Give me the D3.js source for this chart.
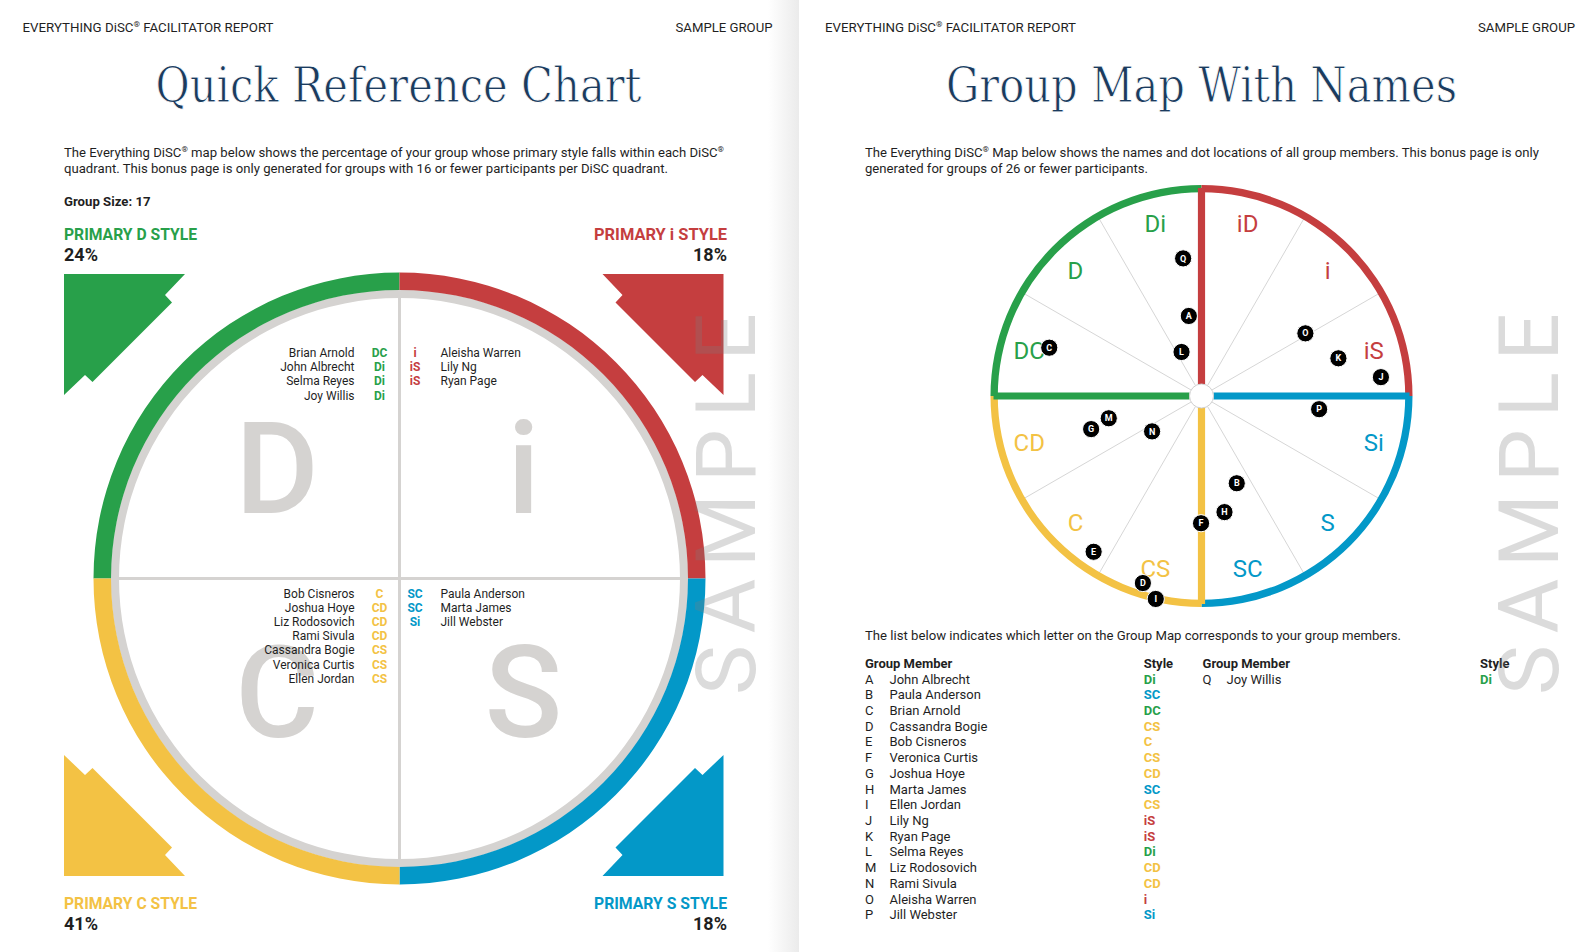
<!DOCTYPE html>
<html><head><meta charset="utf-8">
<script src="https://cdn.jsdelivr.net/npm/d3@7"></script>
<style>
html,body{margin:0;padding:0;background:#fff;}
svg{display:block;}
</style>
</head><body>
<svg id="chart" width="1594" height="952" font-family="Roboto, 'Noto Sans', 'DejaVu Sans', sans-serif"></svg>
<script>
// ---------------- DATA ----------------
const quadrantKeys = ["D", "i", "S", "C"];
const quadrantTitles = ["PRIMARY D STYLE", "PRIMARY i STYLE", "PRIMARY S STYLE", "PRIMARY C STYLE"];
const quadrantPercents = ["24%", "18%", "18%", "41%"];
const groupSize = 17;
const sectorStyles = ["iD", "i", "iS", "Si", "S", "SC", "CS", "C", "CD", "DC", "D", "Di"]; // clockwise from 12 o'clock
const memberLetters = ["A","B","C","D","E","F","G","H","I","J","K","L","M","N","O","P","Q"];
const memberNames = ["John Albrecht","Paula Anderson","Brian Arnold","Cassandra Bogie","Bob Cisneros","Veronica Curtis","Joshua Hoye","Marta James","Ellen Jordan","Lily Ng","Ryan Page","Selma Reyes","Liz Rodosovich","Rami Sivula","Aleisha Warren","Jill Webster","Joy Willis"];
const memberStyles = ["Di","SC","DC","CS","C","CS","CD","SC","CS","iS","iS","Di","CD","CD","i","Si","Di"];
// dot position on the map: angle in degrees clockwise from 12 o'clock, distance as share of map radius
const memberAngles = [351, 158, 287.6, 197.4, 214.7, 180.2, 253.3, 168.8, 192.7, 84, 74.6, 335.6, 256.5, 234.4, 58.9, 96.4, 352.4];
const memberDistances = [0.384, 0.446, 0.757, 0.929, 0.898, 0.603, 0.546, 0.561, 0.986, 0.855, 0.673, 0.229, 0.452, 0.288, 0.575, 0.561, 0.658];

const headerLeft = "EVERYTHING DiSC® FACILITATOR REPORT";
const headerRight = "SAMPLE GROUP";
const titleLeft = "Quick Reference Chart";
const titleRight = "Group Map With Names";
const introLeft = ["The Everything DiSC® map below shows the percentage of your group whose primary style falls within each DiSC®",
                   "quadrant. This bonus page is only generated for groups with 16 or fewer participants per DiSC quadrant."];
const introRight = ["The Everything DiSC® Map below shows the names and dot locations of all group members. This bonus page is only",
                    "generated for groups of 26 or fewer participants."];
const listIntro = "The list below indicates which letter on the Group Map corresponds to your group members.";

// ---------------- STYLE ----------------
const colors = {D: "#28a04a", i: "#c53e3f", S: "#0398c8", C: "#f3c244"};
const ink = "#1f1f1f";
const grayRing = "#d5d3d1";
const styleColor = s => colors[s[0]];

const svg = d3.select("#chart");
const defs = svg.append("defs");
const grad = defs.append("linearGradient").attr("id", "shade").attr("x1", 0).attr("x2", 1).attr("y1", 0).attr("y2", 0);
grad.append("stop").attr("offset", 0).attr("stop-color", "#ffffff");
grad.append("stop").attr("offset", 1).attr("stop-color", "#ebebeb");
svg.append("rect").attr("x", 0).attr("y", 0).attr("width", 1594).attr("height", 952).attr("fill", "#fff");
svg.append("rect").attr("x", 768).attr("y", 0).attr("width", 31).attr("height", 952).attr("fill", "url(#shade)");

function addText(parent, str, x, y, o) {
  const t = parent.append("text").attr("x", x).attr("y", y)
    .attr("font-size", o.size).attr("font-weight", o.weight || 400)
    .attr("fill", o.fill || ink).attr("text-anchor", o.anchor || "start");
  if (o.family) t.style("font-family", o.family);
  if (o.len) t.attr("textLength", o.len).attr("lengthAdjust", o.adjust || "spacingAndGlyphs");
  const parts = str.split("®");
  if (parts.length === 1) { t.text(str); return t; }
  let shifted = false;
  parts.forEach((p, i) => {
    if (p) {
      const ts = t.append("tspan").attr("font-size", o.size).text(p);
      if (shifted) { ts.attr("dy", o.size * 0.38); shifted = false; }
    }
    if (i < parts.length - 1) {
      t.append("tspan").attr("font-size", o.size * 0.62).attr("dy", -o.size * 0.38).text("®");
      shifted = true;
    }
  });
  return t;
}

// ---------------- PAGE TEXT ----------------
const pages = [
  {x0: 22.5, xr: 772.5, title: titleLeft, tc: 398.5, tl: 486, px: 64, intro: introLeft, introLens: [660, 604]},
  {x0: 825, xr: 1575, title: titleRight, tc: 1201.5, tl: 511, px: 865, intro: introRight, introLens: [674, 283]}
];
pages.forEach(p => {
  addText(svg, headerLeft, p.x0, 31.7, {size: 13, len: 251});
  addText(svg, headerRight, p.xr, 31.7, {size: 13, anchor: "end", len: 97});
  addText(svg, p.title, p.tc, 101.5, {size: 48, fill: "#1b3b5e", anchor: "middle", family: "'DejaVu Serif', serif", len: p.tl})
    .attr("stroke", "#fff").attr("stroke-width", 0.9);
  p.intro.forEach((line, i) => addText(svg, line, p.px, 156.5 + i * 16.2, {size: 13, len: p.introLens[i]}));
});
addText(svg, "Group Size: " + groupSize, 64, 205.5, {size: 13, weight: 700, len: 86.5});

// ---------------- LEFT: QUICK REFERENCE CHART ----------------
const cxL = 399.5, cyL = 578.5;
const gL = svg.append("g").attr("transform", `translate(${cxL},${cyL})`);
const quadAngle = d3.scaleLinear().domain([0, 4]).range([-Math.PI / 2, 3 * Math.PI / 2]);
const ringArc = d3.arc().innerRadius(288.5).outerRadius(306);
gL.append("path").attr("d", d3.arc().innerRadius(280.5).outerRadius(288.8)({startAngle: 0, endAngle: 2 * Math.PI})).attr("fill", grayRing);
quadrantKeys.forEach((k, i) => {
  gL.append("path").attr("d", ringArc({startAngle: quadAngle(i), endAngle: quadAngle(i + 1)})).attr("fill", colors[k]);
});
gL.append("line").attr("x1", -281).attr("x2", 281).attr("y1", 0).attr("y2", 0).attr("stroke", grayRing).attr("stroke-width", 3);
gL.append("line").attr("y1", -281).attr("y2", 281).attr("x1", 0).attr("x2", 0).attr("stroke", grayRing).attr("stroke-width", 3);

// quadrant geometry: side (-1 left / +1 right), row (-1 top / +1 bottom)
const quadSide = {D: -1, i: 1, S: 1, C: -1};
const quadRow = {D: -1, i: -1, S: 1, C: 1};
quadrantKeys.forEach(k => {
  const x = quadSide[k] < 0 ? -122.5 : 124;
  const y = quadRow[k] < 0 ? -65.5 : 158.5;
  gL.append("text").attr("x", x).attr("y", y).attr("text-anchor", "middle")
    .attr("font-size", 128).attr("font-weight", 500).attr("fill", grayRing).text(k);
});

// member names per quadrant
const memberIdx = d3.range(memberNames.length);
quadrantKeys.forEach(k => {
  const list = memberIdx.filter(i => memberStyles[i][0] === k)
    .sort((a, b) => memberStyles[a] < memberStyles[b] ? -1 : memberStyles[a] > memberStyles[b] ? 1 : 0);
  const y0 = quadRow[k] < 0 ? -221.5 : 19;
  const yS = d3.scaleLinear().domain([0, 1]).range([y0, y0 + 14.2]);
  const left = quadSide[k] < 0;
  list.forEach((m, j) => {
    gL.append("text").attr("x", left ? -45 : 41).attr("y", yS(j))
      .attr("text-anchor", left ? "end" : "start").attr("font-size", 12).attr("fill", ink).text(memberNames[m]);
    gL.append("text").attr("x", left ? -20 : 15.5).attr("y", yS(j))
      .attr("text-anchor", "middle").attr("font-size", 12).attr("font-weight", 700)
      .attr("fill", styleColor(memberStyles[m])).text(memberStyles[m]);
  });
});

// corner arrows
const arrowPts = [[0, 0], [121, 0], [101, 21], [108, 28.5], [28.5, 108], [21, 101], [0, 121]];
const arrowPath = d3.line()(arrowPts) + "Z";
const corners = {D: [64, 274], i: [723.5, 274], S: [723.5, 876], C: [64, 876]};
quadrantKeys.forEach(k => {
  const [x, y] = corners[k];
  svg.append("path").attr("d", arrowPath).attr("fill", colors[k])
    .attr("transform", `translate(${x},${y}) scale(${-quadSide[k]},${-quadRow[k]})`);
});

// quadrant titles and percentages
quadrantKeys.forEach((k, i) => {
  const left = quadSide[k] < 0;
  const x = left ? 64 : 727;
  const yT = quadRow[k] < 0 ? 239.5 : 908.5;
  addText(svg, quadrantTitles[i], x, yT, {size: 16, weight: 700, fill: colors[k], anchor: left ? "start" : "end", len: 133});
  addText(svg, quadrantPercents[i], x, yT + 21, {size: 18, weight: 700, fill: ink, anchor: left ? "start" : "end"});
});

// ---------------- RIGHT: GROUP MAP ----------------
const cxR = 1201.5, cyR = 396, R = 211;
const gR = svg.append("g").attr("transform", `translate(${cxR},${cyR})`);
const rScale = d3.scaleLinear().domain([0, 1]).range([0, R]);
const aScale = d3.scaleLinear().domain([0, 360]).range([0, 2 * Math.PI]);
const hole = 12;

// thin spokes
d3.range(12).filter(s => s % 3 !== 0).forEach(s => {
  const p0 = d3.pointRadial(aScale(s * 30), hole), p1 = d3.pointRadial(aScale(s * 30), R - 6);
  gR.append("line").attr("x1", p0[0]).attr("y1", p0[1]).attr("x2", p1[0]).attr("y2", p1[1])
    .attr("stroke", "#d6d6d6").attr("stroke-width", 1);
});
// outer ring
const mapArc = d3.arc().innerRadius(R - 7.3).outerRadius(R);
quadrantKeys.forEach((k, i) => {
  gR.append("path").attr("d", mapArc({startAngle: quadAngle(i), endAngle: quadAngle(i + 1)})).attr("fill", colors[k]);
});
// colored dividers (each quadrant's starting boundary)
quadrantKeys.forEach((k, i) => {
  const a = quadAngle(i);
  const p0 = d3.pointRadial(a, hole), p1 = d3.pointRadial(a, R - 3);
  gR.append("line").attr("x1", p0[0]).attr("y1", p0[1]).attr("x2", p1[0]).attr("y2", p1[1])
    .attr("stroke", colors[k]).attr("stroke-width", 7.2);
});
gR.append("circle").attr("r", hole).attr("fill", "#fff").attr("stroke", "#cfcfcf").attr("stroke-width", 1);

// sector labels
sectorStyles.forEach((s, i) => {
  const p = d3.pointRadial(aScale(15 + 30 * i), rScale(0.845));
  gR.append("text").attr("x", p[0]).attr("y", p[1]).attr("dy", "0.36em").attr("text-anchor", "middle")
    .attr("font-size", 24).attr("fill", styleColor(s)).text(s);
});

// member dots
memberIdx.forEach(i => {
  const p = d3.pointRadial(aScale(memberAngles[i]), rScale(memberDistances[i]));
  gR.append("circle").attr("cx", p[0]).attr("cy", p[1]).attr("r", 8.6).attr("fill", "#000")
    .attr("stroke", "#fff").attr("stroke-width", 1);
  gR.append("text").attr("x", p[0]).attr("y", p[1]).attr("dy", "0.35em").attr("text-anchor", "middle")
    .attr("font-size", 9).attr("font-weight", 700).attr("fill", "#fff").text(memberLetters[i]);
});

// member list
addText(svg, listIntro, 865, 640, {size: 13, len: 536});
const colX = [{l: 865, n: 889.5, s: 1143.7}, {l: 1202.6, n: 1226.6, s: 1480}];
const perCol = 16;
colX.forEach(c => {
  addText(svg, "Group Member", c.l, 667.5, {size: 13, weight: 700});
  addText(svg, "Style", c.s, 667.5, {size: 13, weight: 700});
});
const rowY = d3.scaleLinear().domain([0, 1]).range([683.5, 683.5 + 15.72]);
memberIdx.forEach(i => {
  const c = colX[Math.floor(i / perCol)];
  const r = i % perCol;
  addText(svg, memberLetters[i], c.l, rowY(r), {size: 13});
  addText(svg, memberNames[i], c.n, rowY(r), {size: 13});
  addText(svg, memberStyles[i], c.s, rowY(r), {size: 13, weight: 700, fill: styleColor(memberStyles[i])});
});

// ---------------- SAMPLE WATERMARKS ----------------
[755, 1558].forEach(x => {
  svg.append("text").attr("transform", `translate(${x},504) rotate(-90)`)
    .attr("text-anchor", "middle").attr("font-size", 84).attr("fill", "#7f7f7f").attr("fill-opacity", 0.28)
    .attr("textLength", 382).attr("lengthAdjust", "spacing").text("SAMPLE");
});
</script>
</body></html>
